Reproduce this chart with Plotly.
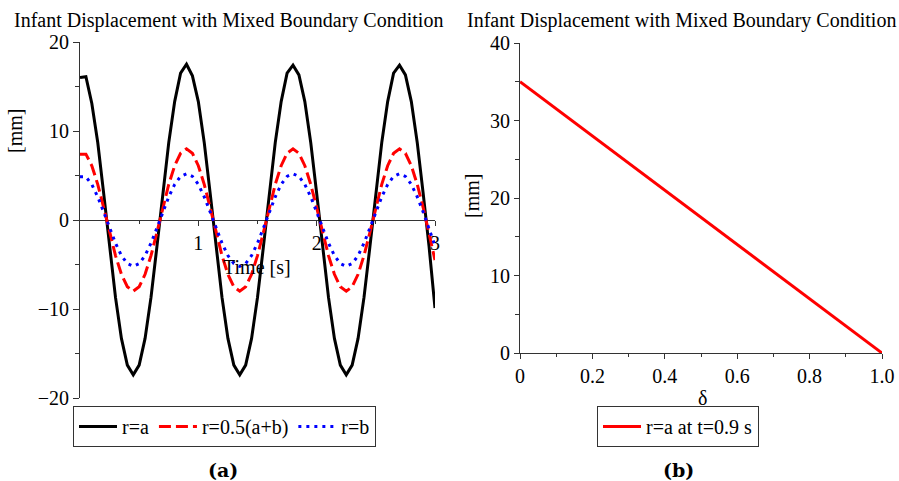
import plotly.graph_objects as go

# ---------------- data ----------------
t_s = [0.00, 0.05, 0.10, 0.15, 0.20, 0.25, 0.30, 0.35, 0.40, 0.45,
       0.50, 0.55, 0.60, 0.65, 0.70, 0.75, 0.80, 0.85, 0.90, 0.95,
       1.00, 1.05, 1.10, 1.15, 1.20, 1.25, 1.30, 1.35, 1.40, 1.45,
       1.50, 1.55, 1.60, 1.65, 1.70, 1.75, 1.80, 1.85, 1.90, 1.95,
       2.00, 2.05, 2.10, 2.15, 2.20, 2.25, 2.30, 2.35, 2.40, 2.45,
       2.50, 2.55, 2.60, 2.65, 2.70, 2.75, 2.80, 2.85, 2.90, 2.95,
       3.00]

disp_r_a = [16.0, 16.1, 13.1, 8.7, 3.0, -3.0, -8.7, -13.3, -16.3, -17.4,
            -16.3, -13.3, -8.7, -3.0, 3.0, 8.7, 13.3, 16.5,
            17.5, 16.2, 13.3, 8.7, 3.0, -3.0, -8.7, -13.3, -16.3, -17.4,
            -16.3, -13.3, -8.7, -3.0, 3.0, 8.7, 13.3, 16.5,
            17.4, 16.3, 13.3, 8.7, 3.0, -3.0, -8.7, -13.3, -16.3, -17.4,
            -16.3, -13.3, -8.7, -3.0, 3.0, 8.7, 13.3, 16.5,
            17.4, 16.3, 13.3, 8.7, 3.0, -3.0, -9.9]

disp_r_mid = [7.4, 7.4, 6.1, 4.0, 1.4, -1.4, -4.0, -6.1, -7.5, -8.0,
              -7.5, -6.1, -4.0, -1.4, 1.4, 4.0, 6.1, 7.5,
              8.0, 7.5, 6.1, 4.0, 1.4, -1.4, -4.0, -6.1, -7.5, -8.0,
              -7.5, -6.1, -4.0, -1.4, 1.4, 4.0, 6.1, 7.5,
              8.0, 7.5, 6.1, 4.0, 1.4, -1.4, -4.0, -6.1, -7.5, -8.0,
              -7.5, -6.1, -4.0, -1.4, 1.4, 4.0, 6.1, 7.5,
              8.0, 7.5, 6.1, 4.0, 1.4, -1.4, -4.5]

disp_r_b = [4.85, 4.85, 4.0, 2.6, 0.9, -0.9, -2.6, -4.0, -4.9, -5.2,
            -4.9, -4.0, -2.6, -0.9, 0.9, 2.6, 4.0, 4.9,
            5.2, 4.9, 4.0, 2.6, 0.9, -0.9, -2.6, -4.0, -4.9, -5.2,
            -4.9, -4.0, -2.6, -0.9, 0.9, 2.6, 4.0, 4.9,
            5.2, 4.9, 4.0, 2.6, 0.9, -0.9, -2.6, -4.0, -4.9, -5.2,
            -4.9, -4.0, -2.6, -0.9, 0.9, 2.6, 4.0, 4.9,
            5.2, 4.9, 4.0, 2.6, 0.9, -0.9, -2.9]

delta = [0.0, 1.0]
disp_delta = [35.0, 0.0]

x1_tickvals = [1, 2, 3]
x2_tickvals = [0, 0.2, 0.4, 0.6, 0.8, 1.0]
x2_ticktext = ["0", "0.2", "0.4", "0.6", "0.8", "1.0"]

# ---------------- layout helpers ----------------
W, H = 899, 481
FONT = "Liberation Serif"


def fx(p):
    return p / W


def fy(p):
    return 1 - p / H


fig = go.Figure()
fig.add_trace(go.Scatter(x=t_s, y=disp_r_a, mode="lines", name="r=a",
                         line=dict(color="black", width=3),
                         xaxis="x", yaxis="y", legend="legend"))
fig.add_trace(go.Scatter(x=t_s, y=disp_r_mid, mode="lines", name="r=0.5(a+b)",
                         line=dict(color="#ff0000", width=3, dash="12px,5px"),
                         xaxis="x", yaxis="y", legend="legend"))
fig.add_trace(go.Scatter(x=t_s, y=disp_r_b, mode="lines", name="r=b",
                         line=dict(color="#0000ff", width=3, dash="3px,5px"),
                         xaxis="x", yaxis="y", legend="legend"))
fig.add_trace(go.Scatter(x=delta, y=disp_delta, mode="lines", name="r=a at t=0.9 s",
                         line=dict(color="#ff0000", width=3),
                         xaxis="x2", yaxis="y2", legend="legend2"))

y1_dom = [fy(398), fy(42)]
y2_dom = [fy(353), fy(43)]
axcol = "#333333"
common = dict(showgrid=False, zeroline=False, showline=True, linecolor=axcol,
              linewidth=1, ticks="outside", tickcolor=axcol, tickwidth=1,
              tickfont=dict(family=FONT, size=20, color="black"), automargin=False)

leg_common = dict(orientation="h", y=fy(406), xanchor="left", yanchor="top",
                  bordercolor=axcol, borderwidth=1, bgcolor="white", itemwidth=38,
                  font=dict(family=FONT, size=20, color="black"))

fig.update_layout(
    width=W, height=H,
    margin=dict(l=0, r=0, t=0, b=0),
    paper_bgcolor="white", plot_bgcolor="white",
    font=dict(family=FONT, size=20, color="black"),
    xaxis=dict(domain=[fx(80), fx(435)], range=[0, 3], anchor="free",
               position=(y1_dom[0] + y1_dom[1]) / 2,
               tickmode="array", tickvals=x1_tickvals, ticklen=5,
               minor=dict(tickmode="array", tickvals=[0.5, 1.5, 2.5], ticklen=3,
                          ticks="outside", tickcolor=axcol),
               layer="below traces", **common),
    yaxis=dict(domain=y1_dom, range=[-20, 20], anchor="x",
               tick0=0, dtick=10, ticklen=6,
               minor=dict(dtick=5, ticklen=4, ticks="outside", tickcolor=axcol),
               **common),
    xaxis2=dict(domain=[fx(520), fx(882)], range=[0, 1], anchor="y2",
                tickmode="array", tickvals=x2_tickvals, ticktext=x2_ticktext, ticklen=5,
                minor=dict(dtick=0.1, ticklen=3, ticks="outside", tickcolor=axcol),
                **common),
    yaxis2=dict(domain=y2_dom, range=[0, 40], anchor="x2",
                tick0=0, dtick=10, ticklen=5,
                minor=dict(dtick=5, ticklen=4, ticks="outside", tickcolor=axcol),
                **common),
    legend=dict(x=fx(73), **leg_common),
    legend2=dict(x=fx(597), **leg_common),
)

ann = [
    dict(text="Infant Displacement with Mixed Boundary Condition", x=fx(228), y=fy(20)),
    dict(text="Infant Displacement with Mixed Boundary Condition", x=fx(681), y=fy(20)),
    dict(text="[mm]", x=fx(15), y=fy(131), textangle=-90),
    dict(text="[mm]", x=fx(472), y=fy(196), textangle=-90),
    dict(text="Time [s]", x=fx(257), y=fy(267)),
    dict(text="δ", x=fx(702), y=fy(398)),
]
for a in ann:
    fig.add_annotation(xref="paper", yref="paper", xanchor="center", yanchor="middle",
                       showarrow=False, font=dict(family=FONT, size=20, color="black"), **a)
for txt, xp in [("(a)", 223), ("(b)", 678)]:
    fig.add_annotation(text="<b>" + txt + "</b>", xref="paper", yref="paper",
                       x=fx(xp), y=fy(470), xanchor="center", yanchor="middle",
                       showarrow=False, font=dict(family="DejaVu Serif", size=19, color="black"))

fig.write_html("out.html")
